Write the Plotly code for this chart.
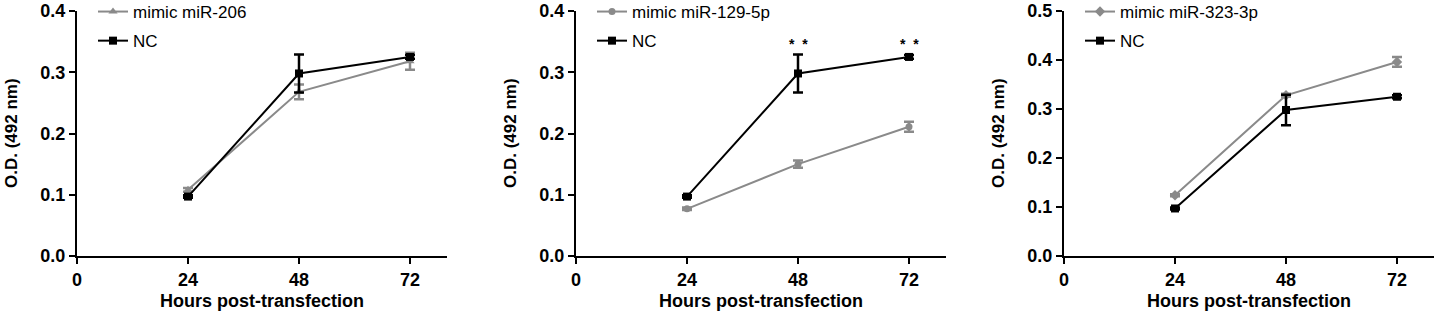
import plotly.graph_objects as go

hours = [24, 48, 72]
nc_vals = [0.097, 0.298, 0.325]
nc_err = [0.002, 0.031, 0.003]
mir206_vals = [0.108, 0.268, 0.318]
mir206_err = [0.003, 0.012, 0.014]
mir129_vals = [0.077, 0.150, 0.211]
mir129_err = [0.002, 0.006, 0.008]
mir323_vals = [0.124, 0.328, 0.396]
mir323_err = [0.002, 0.003, 0.010]

panel_names = ["mimic miR-206", "mimic miR-129-5p", "mimic miR-323-3p"]
panel_vals = [mir206_vals, mir129_vals, mir323_vals]
panel_errs = [mir206_err, mir129_err, mir323_err]
panel_symbols = ["triangle-up", "circle", "diamond"]
panel_ymax = [0.4, 0.4, 0.5]
x_ticks = [0, 24, 48, 72]
star_hours = [48, 72]
star_y = [0.346, 0.346]

W, H = 1439, 315
axis_left_px = [77, 576, 1064]
axis_width_px = 370
y_top_px, y_bot_px = 11, 256

GRAY = "#8a8a8a"
FONT = "Arial, Liberation Sans, sans-serif"

fig = go.Figure()
layout = dict(
    width=W, height=H, margin=dict(l=0, r=0, t=0, b=0, autoexpand=False),
    paper_bgcolor="white", plot_bgcolor="white",
    showlegend=True, annotations=[],
)

for i in range(3):
    n = i + 1
    xa = "x" if n == 1 else f"x{n}"
    ya = "y" if n == 1 else f"y{n}"
    lg = "legend" if n == 1 else f"legend{n}"
    fig.add_trace(go.Scatter(
        x=hours, y=panel_vals[i], name=panel_names[i], mode="lines+markers",
        xaxis=xa, yaxis=ya, legend=lg, legendgroup=f"g{n}a",
        line=dict(color=GRAY, width=2),
        marker=dict(symbol=panel_symbols[i], size=8 if i != 1 else 7, color=GRAY),
        error_y=dict(type="data", array=panel_errs[i], color=GRAY, thickness=2.5, width=5),
        cliponaxis=False,
    ))
    fig.add_trace(go.Scatter(
        x=hours, y=nc_vals, name="NC", mode="lines+markers",
        xaxis=xa, yaxis=ya, legend=lg, legendgroup=f"g{n}b",
        line=dict(color="black", width=2),
        marker=dict(symbol="square", size=8, color="black"),
        error_y=dict(type="data", array=nc_err, color="black", thickness=2.5, width=5),
        cliponaxis=False,
    ))
    x0 = axis_left_px[i] / W
    x1 = (axis_left_px[i] + axis_width_px) / W
    y0 = 1 - y_bot_px / H
    y1 = 1 - y_top_px / H
    common = dict(showline=True, linewidth=2, linecolor="black", ticks="outside",
                  ticklen=6, tickwidth=2, tickcolor="black", showgrid=False, zeroline=False,
                  automargin=False,
                  tickfont=dict(family=FONT, size=18, color="black", weight="bold"))
    layout[f"xaxis{'' if n == 1 else n}"] = dict(
        domain=[x0, x1], range=[0, 80], tickvals=x_ticks, anchor=ya, **common)
    ymax = panel_ymax[i]
    yt = [round(k * 0.1, 1) for k in range(int(round(ymax * 10)) + 1)]
    layout[f"yaxis{'' if n == 1 else n}"] = dict(
        domain=[y0, y1], range=[0, ymax], tickvals=yt, tickformat=".1f", anchor=xa, **common)
    layout[lg] = dict(
        x=(axis_left_px[i] + 16) / W, y=1 + 6 / H, xanchor="left", yanchor="top",
        bgcolor="rgba(0,0,0,0)", font=dict(family=FONT, size=17, color="black"),
        tracegroupgap=4, traceorder="grouped", itemwidth=30,
    )
    layout["annotations"].append(dict(
        text="<b>Hours post-transfection</b>", xref="paper", yref="paper",
        x=(axis_left_px[i] + axis_width_px / 2) / W, y=1 - 301 / H,
        xanchor="center", yanchor="middle", showarrow=False,
        font=dict(family=FONT, size=18, color="black")))
    layout["annotations"].append(dict(
        text="<b>O.D. (492 nm)</b>", xref="paper", yref="paper",
        x=(axis_left_px[i] - 66) / W, y=1 - 133 / H, textangle=-90,
        xanchor="center", yanchor="middle", showarrow=False,
        font=dict(family=FONT, size=17, color="black")))

for hx, sy in zip(star_hours, star_y):
    layout["annotations"].append(dict(
        text="<b>*  *</b>", xref="x2", yref="y2", x=hx, y=sy,
        xanchor="center", yanchor="middle", showarrow=False,
        font=dict(family=FONT, size=14, color="black")))

fig.update_layout(**layout)
fig.write_html("out.html", config={"displayModeBar": False},
               post_script="document.body.style.margin='0';document.body.style.overflow='hidden';")
